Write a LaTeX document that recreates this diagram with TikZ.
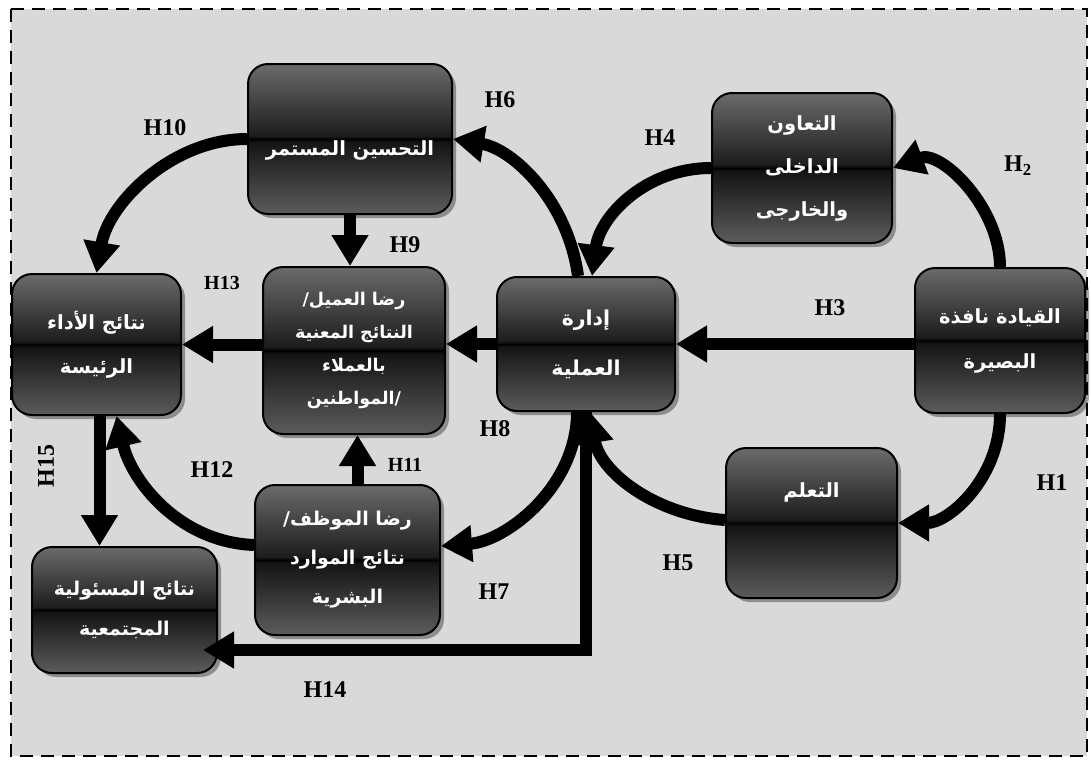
\documentclass[tikz,border=0pt]{standalone}
\usepackage{fontspec}
\setmainfont{Liberation Serif}
\newfontfamily\arabicfont[Script=Arabic]{DejaVu Sans}
\TeXXeTstate=1
\usetikzlibrary{arrows.meta,shadows,calc}
\definecolor{bggray}{HTML}{D9D9D9}
\pgfdeclareverticalshading{glossy}{100bp}{rgb(0bp)=(0.36,0.36,0.36); rgb(25bp)=(0.36,0.36,0.36); rgb(49bp)=(0.08,0.08,0.08); rgb(50bp)=(0,0,0); rgb(51bp)=(0.11,0.11,0.11); rgb(75bp)=(0.42,0.42,0.42); rgb(100bp)=(0.42,0.42,0.42)}
\tikzset{
  box/.style={draw=black, line width=2pt, rounded corners=20pt, shading=glossy,
    text=white, align=center, inner sep=2pt,
    drop shadow={shadow xshift=4pt, shadow yshift=-4pt, fill=black, opacity=0.35},
    font=\arabicfont\bfseries\fontsize{19.5}{40}\selectfont},
  arr/.style={line width=12pt, -{Triangle[length=31pt,width=35pt]}},
  lab/.style={font=\bfseries\fontsize{24}{28}\selectfont, inner sep=0pt},
  slab/.style={font=\bfseries\fontsize{20}{24}\selectfont, inner sep=0pt}
}
\begin{document}
\begin{tikzpicture}[x=1pt,y=-1pt]
\useasboundingbox (0,0) rectangle (1091,763);
\fill[white] (0,0) rectangle (1091,763);
\draw[fill=bggray, line width=2pt, dash pattern=on 13pt off 8pt] (11,9) rectangle (1087,756);

% nodes
\node[box, minimum width=204pt, minimum height=150pt] (imp) at (350,139)
  {\raisebox{-16pt}[0pt][0pt]{\beginR التحسين المستمر\endR}};
\node[box, minimum width=180pt, minimum height=150pt, font=\arabicfont\bfseries\fontsize{19.5}{43}\selectfont] (coop) at (802,168)
  {\beginR التعاون\endR\\\beginR الداخلى\endR\\\beginR والخارجى\endR};
\node[box, minimum width=170pt, minimum height=145pt, font=\arabicfont\bfseries\fontsize{19.5}{45}\selectfont] (lead) at (1000,340.5)
  {\beginR القيادة نافذة\endR\\\beginR البصيرة\endR};
\node[box, minimum width=178pt, minimum height=134pt, font=\arabicfont\bfseries\fontsize{20.5}{50}\selectfont] (proc) at (586,344)
  {\beginR إدارة\endR\\\beginR العملية\endR};
\node[box, minimum width=182pt, minimum height=167pt, font=\arabicfont\bfseries\fontsize{17.5}{33}\selectfont] (cust) at (354,350.5)
  {/\beginR رضا العميل\endR\\\beginR النتائج المعنية\endR\\\beginR بالعملاء\endR\\\beginR المواطنين\endR/};
\node[box, minimum width=169pt, minimum height=141pt, font=\arabicfont\bfseries\fontsize{19.5}{44}\selectfont] (perf) at (96.5,344.5)
  {\beginR نتائج الأداء\endR\\\beginR الرئيسة\endR};
\node[box, minimum width=185pt, minimum height=150pt, font=\arabicfont\bfseries\fontsize{19}{39}\selectfont] (emp) at (347.5,560)
  {/\beginR رضا الموظف\endR\\\beginR نتائج الموارد\endR\\\beginR البشرية\endR};
\node[box, minimum width=185pt, minimum height=126pt, font=\arabicfont\bfseries\fontsize{19}{40}\selectfont] (soc) at (124.5,610)
  {\beginR نتائج المسئولية\endR\\\beginR المجتمعية\endR};
\node[box, minimum width=171pt, minimum height=150pt] (learn) at (811.5,523) {};
\node[text=white, font=\arabicfont\bfseries\fontsize{19.5}{40}\selectfont] (learnT) at (811.5,492)
  {\beginR التعلم\endR};

% connectors
\draw[arr] (lead.north) .. controls +(0,-60) and +(48,-18) .. (coop.east);
\draw[arr] (lead.south) .. controls +(0,65) and +(50,0) .. (learn.east);
\draw[arr] (lead.west |- proc.east) -- (proc.east);
\draw[arr] (coop.west) .. controls +(-65,0) and +(8,-60) .. ([xshift=6pt]proc.north);
\draw[arr] ([xshift=-8pt]proc.north) .. controls +(-10,-75) and +(60,10) .. (imp.east);
\draw[arr] ([yshift=3pt]learn.west) .. controls +(-70,-5) and +(10,60) .. ([xshift=4pt]proc.south);
\draw[arr] ([xshift=-9pt]proc.south) .. controls +(0,75) and +(65,-5) .. ([yshift=14pt]emp.east);
\draw[arr] (proc.south) |- ([xshift=-15pt,yshift=-40pt]soc.east);
\draw[arr] (proc.west) -- (proc.west -| cust.east);
\draw[arr] (cust.west |- perf.east) -- (perf.east);
\draw[arr] (imp.south) -- (imp.south |- cust.north);
\coordinate (e11) at ([xshift=10pt]emp.north);
\draw[arr] (e11) -- (e11 |- cust.south);
\draw[arr] (imp.west) .. controls +(-75,0) and +(12,-70) .. (perf.north);
\draw[arr] ([yshift=15pt]emp.west) .. controls +(-75,-3) and +(15,65) .. ([xshift=20pt]perf.south);
\coordinate (p15) at ([xshift=3pt]perf.south);
\draw[arr] (p15) -- (p15 |- soc.north);

% labels
\node[lab] (l10) at (165,128) {H10};
\node[lab] (l6) at (500,100) {H6};
\node[lab] (l4) at (660,138) {H4};
\node[lab] (l2) at (1018,166) {H\textsubscript{2}};
\node[lab] (l3) at (830,308) {H3};
\node[slab] (l13) at (222,283) {H13};
\node[lab] (l9) at (405,245) {H9};
\node[lab] (l8) at (495,429) {H8};
\node[slab] (l11) at (405,465) {H11};
\node[lab] (l12) at (212,470) {H12};
\node[lab, rotate=90] (l15) at (46,466) {H15};
\node[lab] (l7) at (494,592) {H7};
\node[lab] (l5) at (678,563) {H5};
\node[lab] (l1) at (1052,483) {H1};
\node[lab] (l14) at (325,690) {H14};
\end{tikzpicture}
\end{document}
